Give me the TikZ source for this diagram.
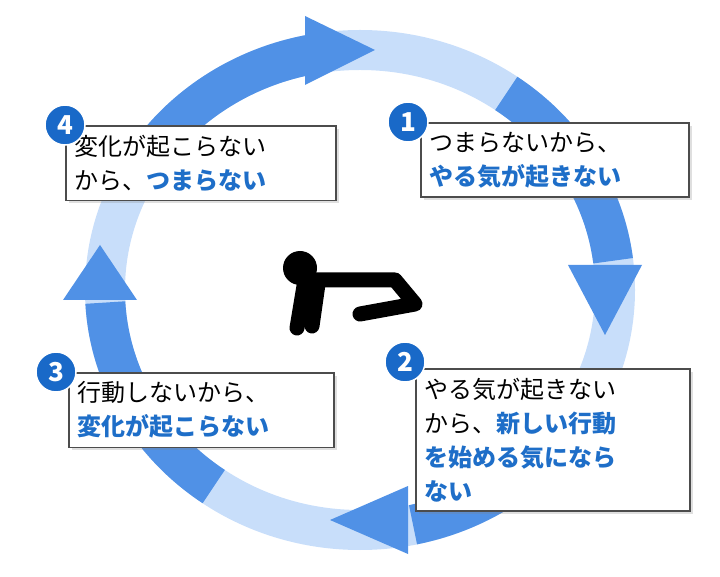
\documentclass[tikz,border=0pt]{standalone}
\usepackage{fontspec}
\setmainfont{Noto Sans CJK JP}
\definecolor{ringlight}{RGB}{200,222,250}
\definecolor{ringdark}{RGB}{80,145,230}
\definecolor{numblue}{RGB}{25,105,200}
\definecolor{hiblue}{RGB}{30,110,200}
\usetikzlibrary{
  positioning,     % relative placement
  shadows          % box shadows
}
\tikzset{
    x=1pt, y=1pt,
    stepbox/.style = {
        rectangle,
        draw=black!70,
        line width=1.6pt,
        fill=white,
        drop shadow={opacity=0.25},
        align=left,
        anchor=north west,
        inner sep=9pt,
        font=\fontsize{24}{34}\selectfont
    },
    num/.style = {
        circle,
        fill=numblue,
        draw=white,
        line width=1.5pt,
        minimum size=40pt,
        inner sep=0pt,
        text=white,
        font=\bfseries\fontsize{26}{26}\selectfont
    },
    ringarc/.style = {draw=ringdark, line width=40pt},
    head/.style = {fill=ringdark, draw=none},
    body/.style = {draw=black, line width=15pt, line cap=round, line join=round}
}
\newcommand{\hl}[1]{{\bfseries\color{hiblue}#1}}
\begin{document}
\begin{tikzpicture}
  \useasboundingbox (0,0) rectangle (720,576);

  %% ring
  \draw [draw=ringlight, line width=40pt] (360,286) ellipse [x radius=255, y radius=240];
  \draw [ringarc] (360,286) ++(150:255 and 240) arc [start angle=150, end angle=98, x radius=255, y radius=240];
  \draw [ringarc] (360,286) ++(55:255 and 240) arc [start angle=55, end angle=7, x radius=255, y radius=240];
  \draw [ringarc] (360,286) ++(-30:255 and 240) arc [start angle=-30, end angle=-78, x radius=255, y radius=240];
  \draw [ringarc] (360,286) ++(235:255 and 240) arc [start angle=235, end angle=183, x radius=255, y radius=240];

  %% arrow heads
  \fill [head] (375,526) -- (305,560) -- (305,491) -- cycle;
  \fill [head] (605,241) -- (568,311) -- (642,311) -- cycle;
  \fill [head] (330,56) -- (408,22) -- (408,90) -- cycle;
  \fill [head] (100,331) -- (63,276) -- (137,276) -- cycle;

  %% person
  \draw [body] (297,248) -- (305,296) -- (395,296) -- (415,272) -- (360,262);
  \draw [body] (312,250) -- (318,292);
  \fill (300,308) circle (17);

  %% steps
  \node [stepbox, text width=252pt] (S4) at (65,451) {変化が起こらない\\から、\hl{つまらない}};
  \node [stepbox, text width=250pt] (S1) at (420,454) {つまらないから、\\\hl{やる気が起きない}};
  \node [stepbox, text width=256pt] (S2) at (415,208) {やる気が起きない\\から、\hl{新しい行動}\\\hl{を始める気になら}\\\hl{ない}};
  \node [stepbox, text width=247pt] (S3) at (68,204) {行動しないから、\\\hl{変化が起こらない}};

  %% numbers
  \node [num] (N4) at (S4.north west) {4};
  \node [num] (N1) at ([xshift=-12pt]S1.north west) {1};
  \node [num] (N2) at ([xshift=-10pt, yshift=6pt]S2.north west) {2};
  \node [num] (N3) at ([xshift=-12pt]S3.north west) {3};
\end{tikzpicture}
\end{document}
